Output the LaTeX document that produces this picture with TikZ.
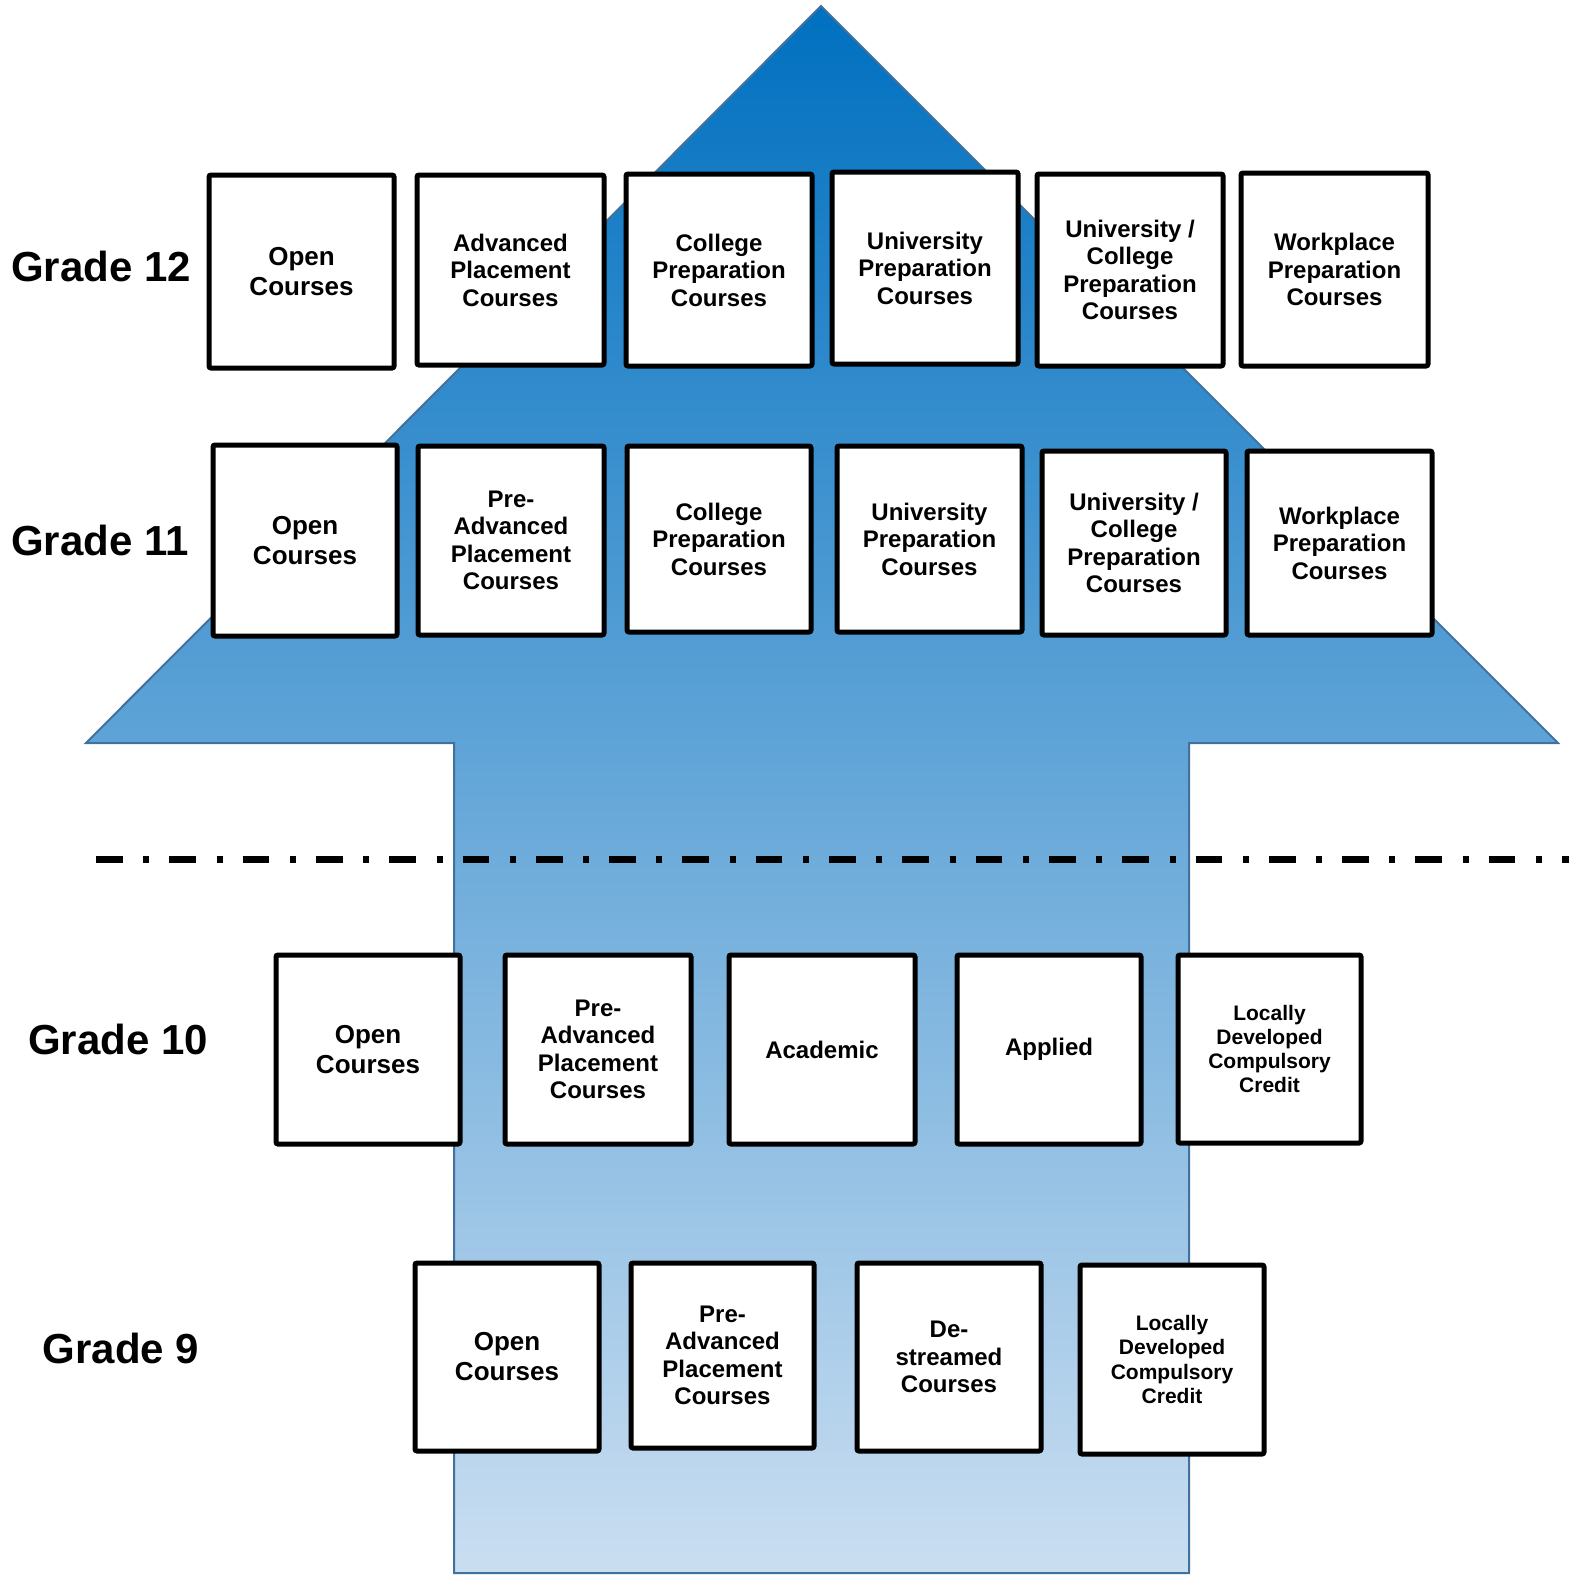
\documentclass[tikz,border=0pt]{standalone}
\usepackage{fontspec}
\setmainfont{Liberation Sans}
\definecolor{arrowtop}{RGB}{0,112,192}
\definecolor{arrowbot}{RGB}{202,222,241}
\definecolor{arrowline}{RGB}{65,113,156}
\tikzset{
  course/.style={draw=black, line width=5pt, fill=white, rounded corners=2pt,
    align=center, inner sep=0pt, font=\bfseries\fontsize{24}{27.5}\selectfont},
  opentxt/.style={font=\bfseries\fontsize{26}{30}\selectfont},
  localtxt/.style={font=\bfseries\fontsize{21}{24.3}\selectfont},
  plain/.style={},
  gradelabel/.style={font=\bfseries\fontsize{42}{48}\selectfont, inner sep=0pt}
}
\newcommand\cbox[7]{%
  \node[course,#6,minimum width={#4-#2-2},minimum height={#5-#3-2}]
    (#1) at ({(#2+#4)/2},{(#3+#5)/2+1}) {#7};}
\begin{document}
\begin{tikzpicture}[x=1pt,y=-1pt]
\useasboundingbox (0,0) rectangle (1584,1574);
% big arrow
\shade[top color=arrowtop, bottom color=arrowbot]
  (821,6) -- (1558,743) -- (1189,743) -- (1189,1573) -- (454,1573) -- (454,743) -- (86,743) -- cycle;
\draw[arrowline, line width=2pt, line join=miter]
  (821,6) -- (1558,743) -- (1189,743) -- (1189,1573) -- (454,1573) -- (454,743) -- (86,743) -- cycle;
% separator
\coordinate (sepL) at (96,859);
\coordinate (sepR) at (1569,859);
\draw[line width=7pt, dash pattern=on 26.7pt off 20.6pt on 6pt off 20pt] (sepL) -- (sepR);
% grade labels
\node[gradelabel] (g12) at (101,266) {Grade 12};
\node[gradelabel] (g11) at (100,540) {Grade 11};
\node[gradelabel] (g10) at (118,1039) {Grade 10};
\node[gradelabel] (g9) at (121,1348) {Grade 9};
% Grade 12
\cbox{a12}{208}{173}{395}{368}{opentxt}{Open\\Courses}
\cbox{b12}{416}{173}{605}{365}{plain}{Advanced\\Placement\\Courses}
\cbox{c12}{625}{172}{813}{366}{plain}{College\\Preparation\\Courses}
\cbox{d12}{831}{170}{1019}{364}{plain}{University\\Preparation\\Courses}
\cbox{e12}{1036}{172}{1224}{366}{plain}{University /\\College\\Preparation\\Courses}
\cbox{f12}{1240}{171}{1429}{366}{plain}{Workplace\\Preparation\\Courses}
% Grade 11
\cbox{a11}{212}{443}{398}{636}{opentxt}{Open\\Courses}
\cbox{b11}{417}{444}{605}{635}{plain}{Pre-\\Advanced\\Placement\\Courses}
\cbox{c11}{626}{444}{812}{632}{plain}{College\\Preparation\\Courses}
\cbox{d11}{836}{444}{1023}{632}{plain}{University\\Preparation\\Courses}
\cbox{e11}{1041}{449}{1227}{635}{plain}{University /\\College\\Preparation\\Courses}
\cbox{f11}{1246}{449}{1433}{635}{plain}{Workplace\\Preparation\\Courses}
% Grade 10
\cbox{a10}{275}{953}{461}{1144}{opentxt}{Open\\Courses}
\cbox{b10}{504}{953}{692}{1144}{plain}{Pre-\\Advanced\\Placement\\Courses}
\cbox{c10}{728}{953}{916}{1144}{plain}{Academic}
\cbox{d10}{956}{953}{1142}{1144}{plain}{Applied}
\cbox{e10}{1177}{953}{1362}{1143}{localtxt}{Locally\\Developed\\Compulsory\\Credit}
% Grade 9
\cbox{a9}{414}{1261}{600}{1451}{opentxt}{Open\\Courses}
\cbox{b9}{630}{1261}{815}{1448}{plain}{Pre-\\Advanced\\Placement\\Courses}
\cbox{c9}{856}{1261}{1042}{1451}{plain}{De-\\streamed\\Courses}
\cbox{d9}{1079}{1263}{1265}{1454}{localtxt}{Locally\\Developed\\Compulsory\\Credit}
\end{tikzpicture}
\end{document}
